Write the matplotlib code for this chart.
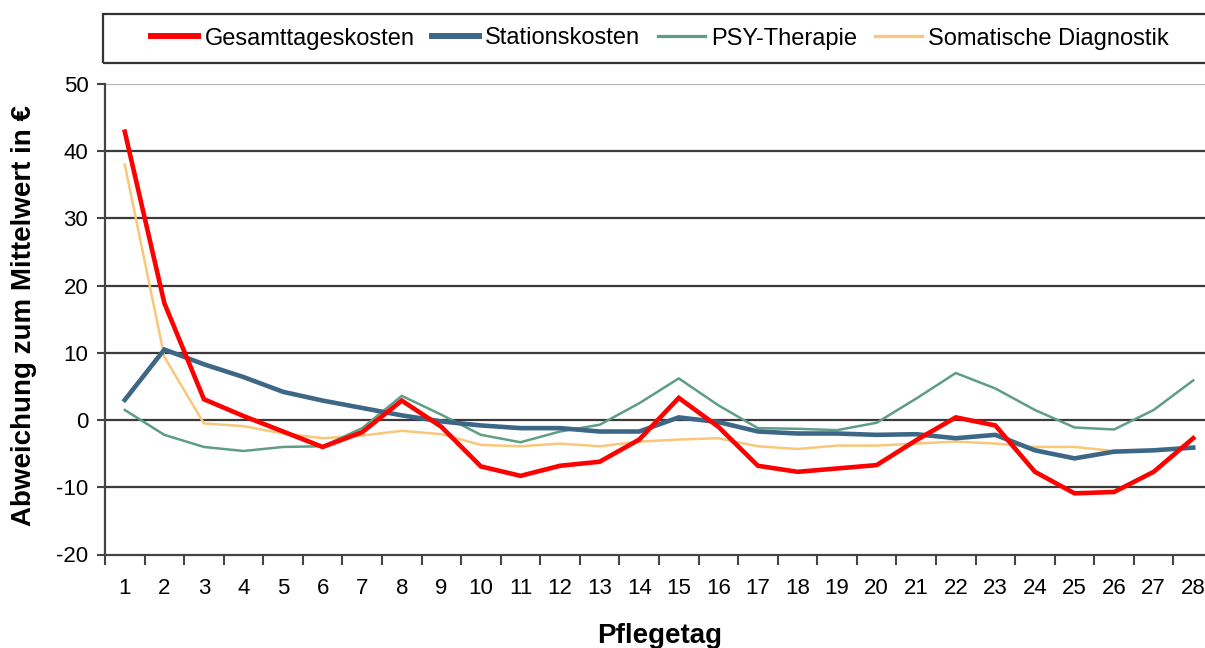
"""
Abweichung der Tageskosten vom Mittelwert je Pflegetag.
"""

import matplotlib.pyplot as plt
from matplotlib.lines import Line2D
from matplotlib.patches import Rectangle
from matplotlib.ticker import FixedLocator

plt.rcParams["font.family"] = ["Liberation Sans", "DejaVu Sans"]
plt.rcParams["axes.unicode_minus"] = False

days = list(range(1, 29))

gesamttageskosten = [42.9, 17.4, 3.1, 0.6, -1.7, -4.0, -1.8, 2.9, -1.0, -6.9,
                     -8.3, -6.8, -6.2, -2.9, 3.3, -1.0, -6.8, -7.7, -7.2, -6.7,
                     -3.0, 0.4, -0.8, -7.7, -10.9, -10.7, -7.7, -2.7]
stationskosten = [3.0, 10.5, 8.3, 6.4, 4.2, 2.9, 1.8, 0.7, -0.2, -0.8,
                  -1.2, -1.2, -1.7, -1.7, 0.4, -0.3, -1.7, -2.0, -2.0, -2.2,
                  -2.1, -2.7, -2.2, -4.5, -5.7, -4.7, -4.5, -4.1]
psy_therapie = [1.5, -2.2, -4.0, -4.6, -4.0, -3.9, -1.2, 3.6, 0.8, -2.2,
                -3.3, -1.7, -0.7, 2.5, 6.2, 2.2, -1.2, -1.3, -1.5, -0.4,
                3.2, 7.0, 4.7, 1.5, -1.1, -1.4, 1.5, 5.9]
somatische_diagnostik = [38.0, 9.4, -0.5, -0.9, -2.0, -2.7, -2.3, -1.6, -2.1, -3.7,
                         -3.9, -3.5, -3.9, -3.2, -2.9, -2.7, -3.9, -4.3, -3.8, -3.8,
                         -3.5, -3.2, -3.5, -4.0, -4.0, -4.6, -4.5, -4.1]

y_ticks = [-20, -10, 0, 10, 20, 30, 40, 50]

series = [
    ("Gesamttageskosten", gesamttageskosten, "#FF0000", 3.3, 5),
    ("Stationskosten", stationskosten, "#3D6787", 3.3, 4),
    ("PSY-Therapie", psy_therapie, "#5E9E84", 1.8, 3),
    ("Somatische Diagnostik", somatische_diagnostik, "#F9C77A", 1.8, 2),
]

fig = plt.figure(figsize=(12.05, 6.48), dpi=100)
ax = fig.add_axes([105 / 1205, 1 - 554.5 / 648, 1108 / 1205, 470.5 / 648])

for value in y_ticks[1:]:
    color = "#B4B4B4" if value == 50 else "#3A3A3A"
    ax.axhline(value, color=color, linewidth=1.6, zorder=1)

for name, values, color, width, z in series:
    ax.plot(days, values, color=color, linewidth=width, zorder=z,
            solid_joinstyle="miter")

ax.set_xlim(0.5, 28.5)
ax.set_ylim(-20, 50)
ax.set_yticks(y_ticks)
ax.set_xticks(days)
ax.xaxis.set_minor_locator(FixedLocator([d + 0.5 for d in range(0, 29)]))
ax.tick_params(axis="x", which="major", length=0, pad=17, labelsize=16)
ax.tick_params(axis="x", which="minor", length=7, width=1.5, color="#444444")
ax.tick_params(axis="y", length=6, width=1.5, color="#444444", pad=6,
               labelsize=16)

for side in ["top", "right"]:
    ax.spines[side].set_visible(False)
for side in ["left", "bottom"]:
    ax.spines[side].set_color("#444444")
    ax.spines[side].set_linewidth(1.6)

fig.text(659.5 / 1205, 1 - 643 / 648, "Pflegetag", ha="center",
         va="baseline", fontsize=20, fontweight="bold")
fig.text(24 / 1205, 1 - 316 / 648, "Abweichung zum Mittelwert in €",
         ha="center", va="center", rotation=90, fontsize=20,
         fontweight="bold")

# legend box runs past the right edge, like in the original
fig.patches.append(Rectangle((103 / 1205, 1 - 63 / 648), 1120 / 1205,
                             49 / 648, transform=fig.transFigure,
                             fill=False, edgecolor="#333333", linewidth=1.6))

handles = [Line2D([], [], color=color, linewidth=width * 1.3)
           for _, _, color, width, _ in series]
labels = [name for name, _, _, _, _ in series]
fig.legend(handles, labels, loc="center", ncol=4,
           bbox_to_anchor=(660 / 1205, 1 - 38.5 / 648),
           frameon=False, fontsize=17, handlelength=2.0,
           handletextpad=0.25, columnspacing=0.75)

fig.savefig("out.png", dpi=100)
